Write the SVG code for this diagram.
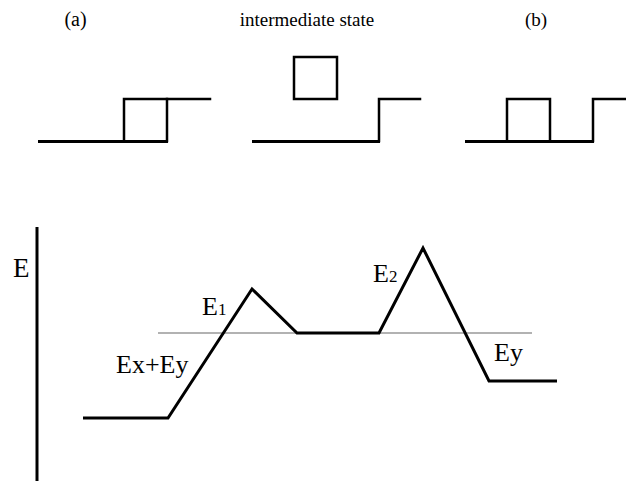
<svg xmlns="http://www.w3.org/2000/svg" width="626" height="481" viewBox="0 0 626 481">
<style>
text{font-family:"Liberation Serif","Times New Roman",serif;fill:#000}
.cap{font-size:19px;text-anchor:middle}
.lbl{font-size:26px}
.sub{font-size:17px}
.ln{fill:none;stroke:#000;stroke-width:2.5;stroke-linejoin:miter;stroke-linecap:square}
.base{fill:none;stroke:#000;stroke-width:3;stroke-linecap:butt}
.grey{fill:none;stroke:#999;stroke-width:1.5}
</style>
<rect width="626" height="481" fill="#fff"/>
<g id="panel-a">
<text class="cap" x="75.5" y="26" style="font-size:20px">(a)</text>
<line class="base" x1="38" y1="141.5" x2="168" y2="141.5"/>
<polyline class="ln" points="124,141 124,99 210,99"/>
<line class="ln" x1="167" y1="99" x2="167" y2="141"/>
</g>
<g id="panel-intermediate">
<text class="cap" x="307" y="26">intermediate state</text>
<rect class="ln" x="294" y="57" width="43" height="42"/>
<line class="base" x1="252" y1="141.5" x2="380" y2="141.5"/>
<polyline class="ln" points="379,141 379,99 420,99"/>
</g>
<g id="panel-b">
<text class="cap" x="536" y="26">(b)</text>
<line class="base" x1="465" y1="141.5" x2="594" y2="141.5"/>
<polyline class="ln" points="507,141 507,99 550,99 550,141"/>
<polyline class="ln" points="593,141 593,99 630,99"/>
</g>
<g id="energy-axis">
<line class="base" x1="37" y1="227" x2="37" y2="481"/>
<text class="lbl" x="13" y="277" style="font-size:27px">E</text>
</g>
<g id="connectors">
<line class="grey" x1="158" y1="333" x2="532" y2="333"/>
<polyline points="83,418 168,418 252,289 297,333 379,333 423,248 489,381 557,381" fill="none" stroke="#000" stroke-width="3" stroke-linejoin="miter"/>
</g>
<g id="labels">
<text class="lbl" x="116" y="373">Ex+Ey</text>
<text class="lbl" x="202" y="315">E<tspan class="sub">1</tspan></text>
<text class="lbl" x="373" y="282">E<tspan class="sub">2</tspan></text>
<text class="lbl" x="494" y="361">Ey</text>
</g>
</svg>
